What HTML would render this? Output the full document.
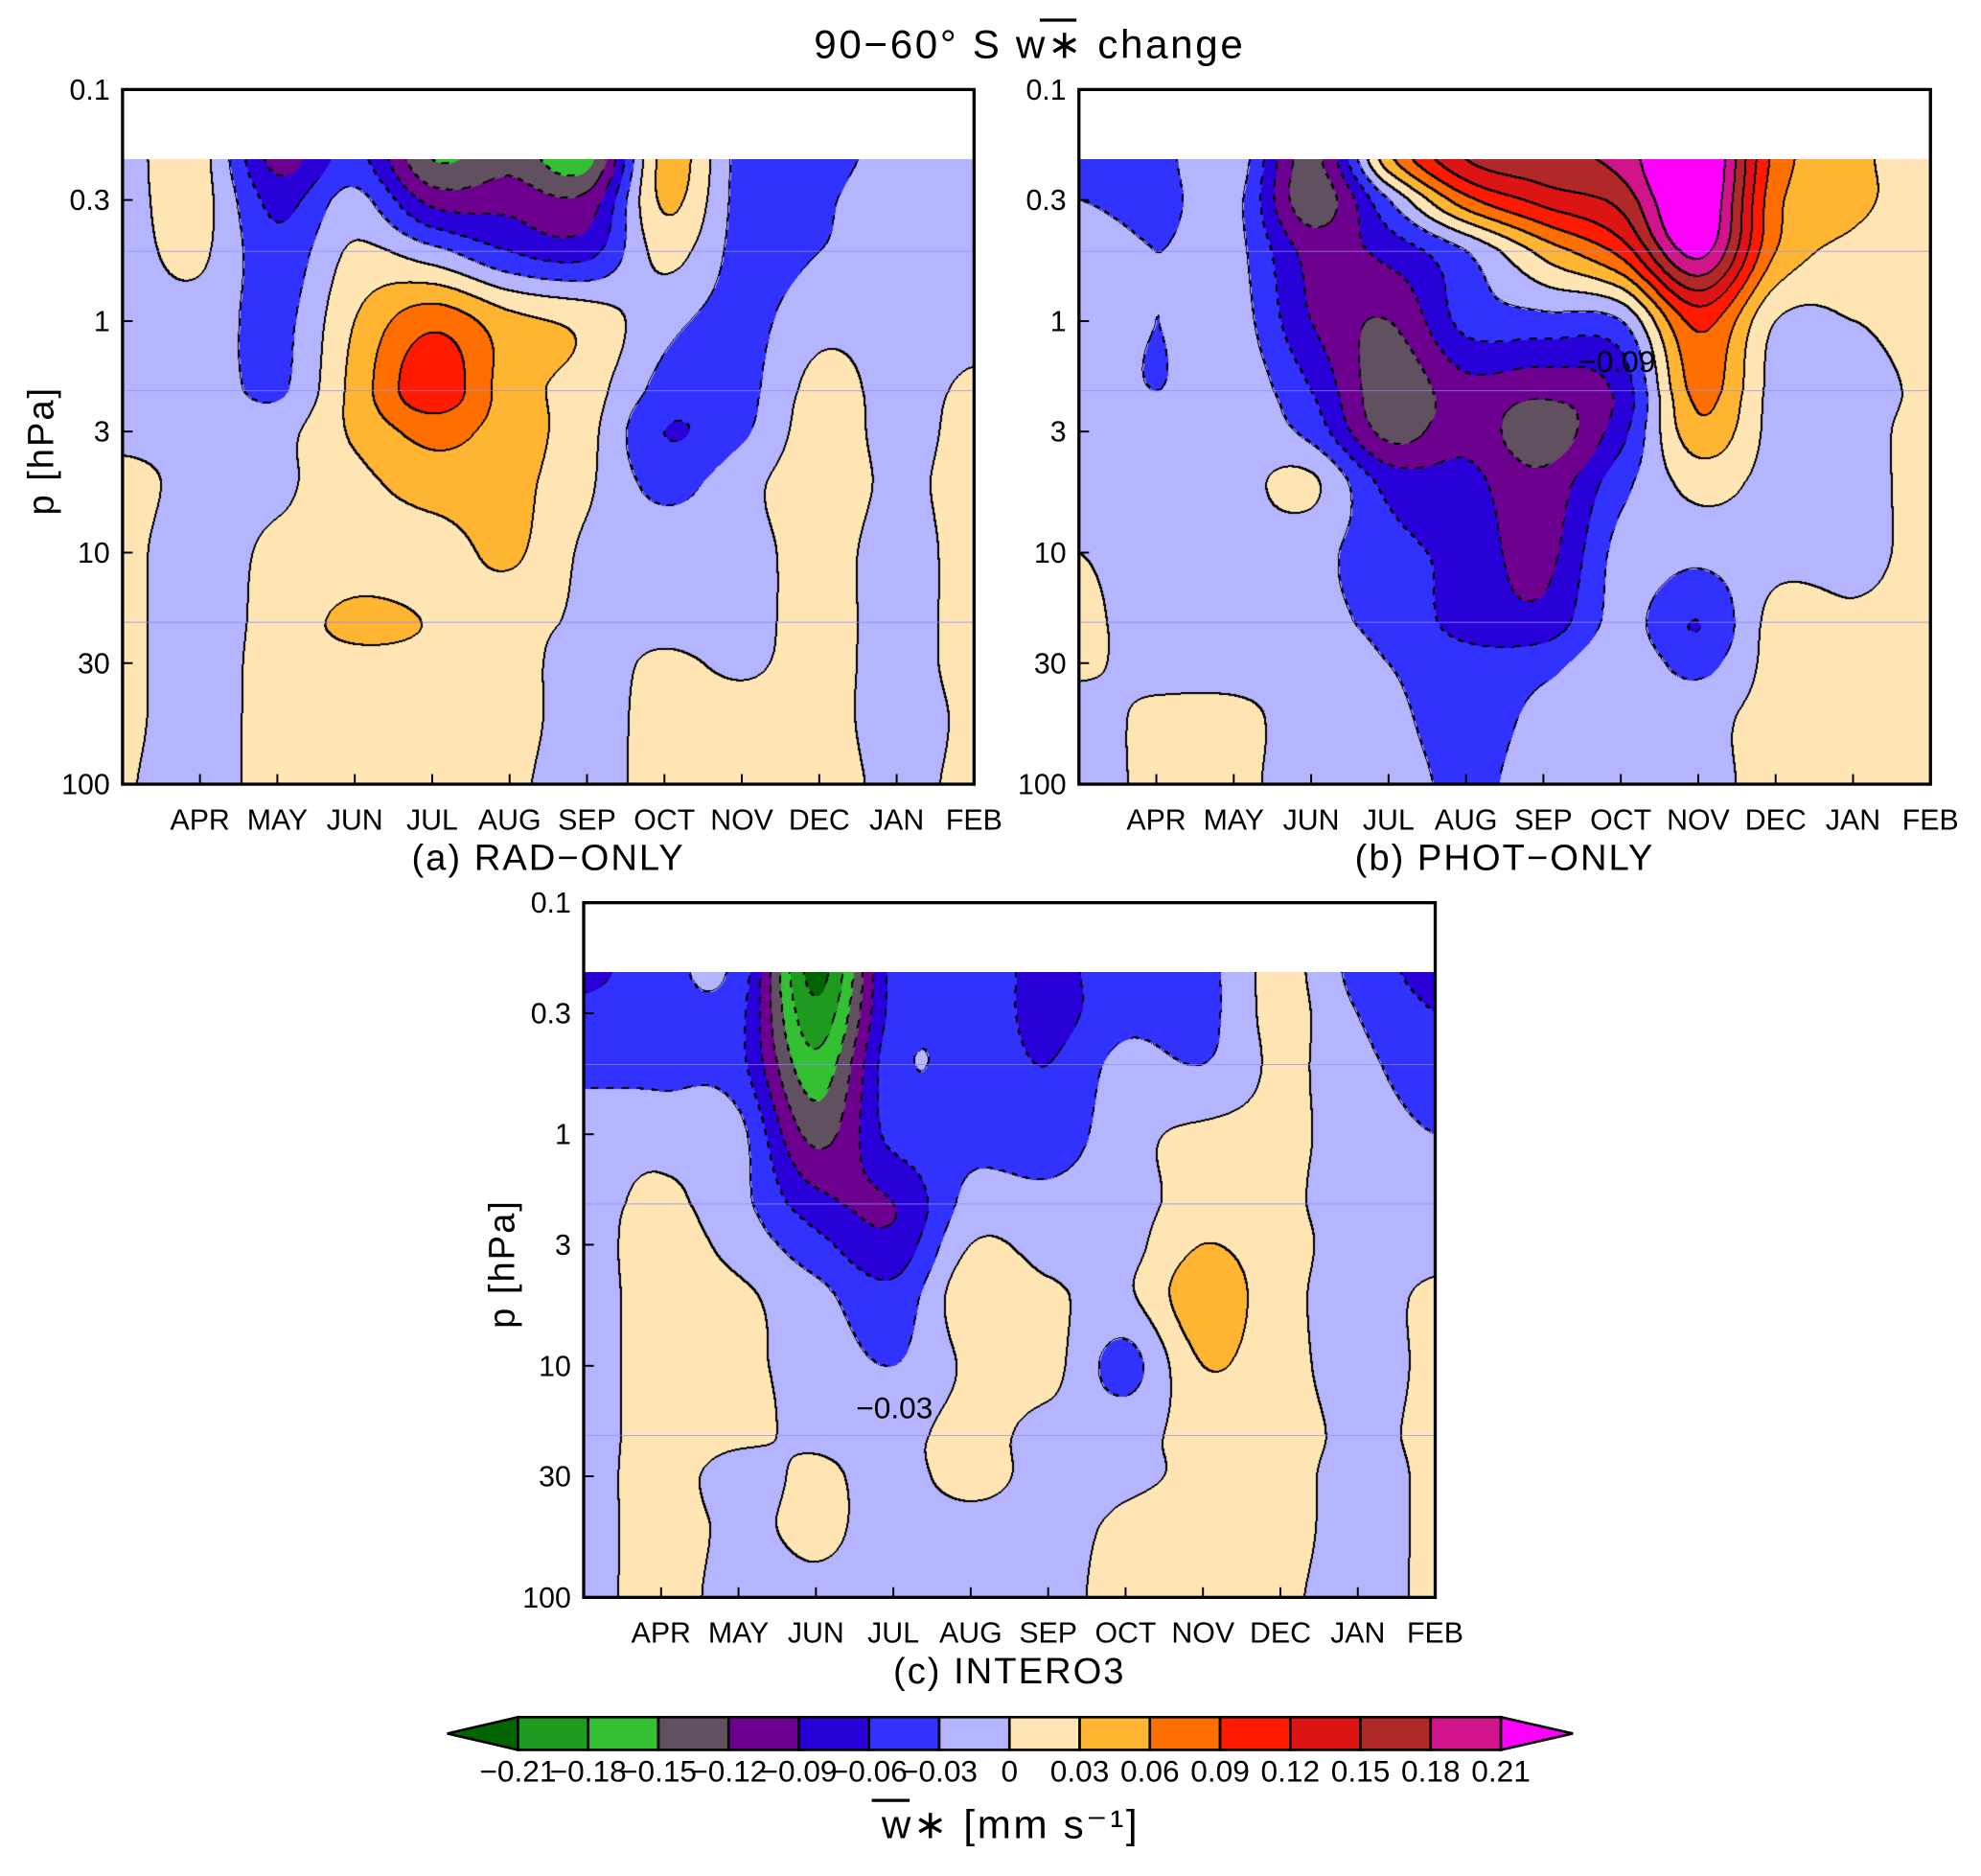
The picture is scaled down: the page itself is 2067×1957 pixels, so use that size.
<!DOCTYPE html>
<html><head><meta charset="utf-8"><title>90-60S w* change</title>
<style>
html,body{margin:0;padding:0;background:#fff;}
#root{position:relative;width:2067px;height:1957px;overflow:hidden;background:#fff;}
#root svg{position:absolute;left:0;top:0;}
canvas{position:absolute;}
</style></head>
<body>
<div id="root">
<svg id="svg" width="2067" height="1957" viewBox="0 0 1568 1488" preserveAspectRatio="none" font-family="Liberation Sans, DejaVu Sans, sans-serif"></svg>
</div>
<script>
// ---- data ----
const months = ["MAR","APR","MAY","JUN","JUL","AUG","SEP","OCT","NOV","DEC","JAN","FEB"];
const pLevels = [0.2,0.3,0.5,1,2,3,5,10,20,30,50,100];
const yTicks = [0.1,0.3,1,3,10,30,100];
const yTickLabels = ["0.1","0.3","1","3","10","30","100"];
const contourLevels = [-0.21,-0.18,-0.15,-0.12,-0.09,-0.06,-0.03,0,0.03,0.06,0.09,0.12,0.15,0.18,0.21];
const levelLabels = ["−0.21","−0.18","−0.15","−0.12","−0.09","−0.06","−0.03","0","0.03","0.06","0.09","0.12","0.15","0.18","0.21"];
const fillColors = ["#006400","#1e9b1e","#33c033","#605060","#6e0090","#2a00d8","#3232ff","#b4b4ff","#ffe4b4","#ffb432","#ff6e00","#ff1a00","#dc1414","#b02828","#d2148c","#ff00ff"];

const radOnly = [
 [-0.01,0.01,-0.10,-0.05,-0.15,-0.13,-0.16,0.04,-0.04,-0.04,-0.02,-0.02],
 [-0.01,0.01,-0.07,-0.02,-0.10,-0.10,-0.11,0.035,-0.04,-0.035,-0.01,-0.01],
 [-0.01,0.005,-0.05,0.005,-0.02,-0.06,-0.07,0.01,-0.04,-0.03,-0.01,-0.01],
 [-0.01,-0.01,-0.04,0.03,0.08,0.04,0.02,-0.02,-0.04,-0.01,-0.01,-0.01],
 [-0.01,-0.01,-0.035,0.04,0.11,0.045,0.015,-0.04,-0.04,0.01,-0.01,0.005],
 [-0.005,-0.005,-0.01,0.035,0.07,0.045,0.01,-0.06,-0.035,0.015,-0.01,0.01],
 [0.005,-0.005,-0.005,0.02,0.045,0.04,0.005,-0.04,-0.01,0.015,-0.005,0.01],
 [0.005,-0.01,0.005,0.01,0.015,0.035,-0.005,-0.01,-0.01,0.01,-0.01,0.01],
 [0.005,-0.01,0.01,0.038,0.028,0.012,-0.005,-0.01,-0.01,0.01,-0.01,0.01],
 [0.005,-0.01,0.01,0.02,0.02,0.01,-0.01,0.005,-0.005,0.01,-0.01,0.01],
 [0.005,-0.01,0.01,0.015,0.015,0.01,-0.01,0.01,0.01,0.01,-0.01,0.005],
 [0.002,-0.01,0.01,0.015,0.015,0.005,-0.01,0.01,0.01,0.01,-0.005,0.005]
];
const photOnly = [
 [-0.04,-0.04,-0.01,-0.13,0.05,0.15,0.17,0.19,0.26,0.08,0.04,0.01],
 [-0.03,-0.04,-0.02,-0.14,-0.03,0.08,0.13,0.16,0.25,0.07,0.04,0.01],
 [-0.01,-0.03,-0.02,-0.10,-0.08,-0.03,0.04,0.10,0.22,0.06,0.02,0.01],
 [-0.01,-0.03,-0.015,-0.09,-0.12,-0.05,-0.04,-0.03,0.10,0.0,0.0,0.01],
 [-0.01,-0.03,-0.01,-0.06,-0.14,-0.10,-0.11,-0.08,0.07,-0.01,-0.01,0.005],
 [-0.01,-0.01,-0.01,-0.04,-0.13,-0.10,-0.14,-0.07,0.05,-0.01,-0.01,0.01],
 [-0.01,-0.01,-0.01,0.005,-0.07,-0.08,-0.11,-0.04,0.01,-0.01,-0.01,0.01],
 [0.0,-0.01,-0.01,-0.02,-0.05,-0.07,-0.10,-0.02,-0.02,-0.01,-0.01,0.01],
 [0.005,-0.01,-0.01,-0.02,-0.04,-0.07,-0.08,-0.02,-0.06,0.01,0.005,0.01],
 [0.005,-0.01,-0.01,-0.01,-0.03,-0.05,-0.04,-0.01,-0.04,0.01,0.01,0.005],
 [-0.01,0.005,0.005,-0.01,-0.02,-0.05,-0.02,-0.01,-0.01,0.01,0.01,0.005],
 [-0.01,0.005,0.005,-0.01,-0.01,-0.04,-0.01,-0.01,-0.01,0.01,0.005,0.005]
];
const interO3 = [
 [-0.07,-0.04,-0.04,-0.22,-0.05,-0.04,-0.07,-0.04,-0.04,0.01,-0.04,-0.07],
 [-0.05,-0.04,-0.05,-0.20,-0.05,-0.04,-0.07,-0.04,-0.04,0.01,-0.03,-0.06],
 [-0.04,-0.04,-0.05,-0.17,-0.04,-0.04,-0.06,-0.02,-0.03,0.005,-0.02,-0.05],
 [-0.01,-0.01,-0.02,-0.13,-0.05,-0.04,-0.05,-0.01,0.005,0.005,-0.01,-0.03],
 [-0.01,0.005,-0.02,-0.08,-0.09,-0.02,-0.02,-0.01,0.01,0.005,-0.01,-0.01],
 [-0.01,0.01,-0.01,-0.05,-0.08,0.0,-0.01,-0.01,0.03,0.01,-0.01,-0.01],
 [-0.01,0.01,0.005,-0.02,-0.05,0.02,0.005,-0.005,0.05,0.01,-0.01,0.005],
 [-0.01,0.01,0.005,-0.01,-0.03,0.005,0.01,-0.04,0.03,0.01,-0.01,0.005],
 [-0.01,0.01,0.005,-0.005,-0.01,0.01,-0.01,-0.01,0.01,0.01,-0.005,0.005],
 [-0.01,0.01,-0.01,0.005,-0.01,0.01,-0.01,-0.005,0.005,0.01,-0.01,0.005],
 [-0.01,0.01,-0.005,0.005,-0.01,-0.01,-0.01,0.005,0.01,0.01,-0.01,0.005],
 [-0.01,0.01,-0.01,-0.005,-0.01,-0.01,-0.01,0.01,0.01,0.005,-0.01,0.005]
];

// ---- layout (display coords, viewBox 1568x1488) ----
const SX = 2067/1568, SY = 1957/1488;
const panels = [
 {key:"a", x0:97, y0:71, w:674, h:551, data:radOnly, title:"(a) RAD−ONLY", ytitle:true},
 {key:"b", x0:854, y0:71, w:674, h:551, data:photOnly, title:"(b) PHOT−ONLY", ytitle:false},
 {key:"c", x0:462, y0:716, w:674, h:551, data:interO3, title:"(c) INTERO3", ytitle:true}
];
const NS="http://www.w3.org/2000/svg";
const svg=document.getElementById('svg');
const root=document.getElementById('root');
function mk(tag,attrs,parent){const e=document.createElementNS(NS,tag);for(const k in attrs)e.setAttribute(k,attrs[k]);(parent||svg).appendChild(e);return e;}

function levelIndex(v){let i=0;while(i<contourLevels.length && v>=contourLevels[i])i++;return i;}
function hex(c){return [parseInt(c.substr(1,2),16),parseInt(c.substr(3,2),16),parseInt(c.substr(5,2),16)];}
const rgb = fillColors.map(hex);
function cr(p0,p1,p2,p3,t){
  return 0.5*((2*p1)+(-p0+p2)*t+(2*p0-5*p1+4*p2-p3)*t*t+(-p0+3*p1-3*p2+p3)*t*t*t);
}
function sampleRow(row,c,tx){
  const n=row.length;
  const g=k=>row[Math.max(0,Math.min(n-1,k))];
  return cr(g(c-1),g(c),g(c+1),g(c+2),tx);
}

panels.forEach(P=>{
  const yScale = p => P.y0 + (Math.log10(p)-Math.log10(0.1))/3*P.h;
  const xScale = m => P.x0 + m*(P.w/11);
  const yTop = yScale(pLevels[0]);
  const cx = Math.round(P.x0*SX), cy = Math.round(yTop*SY);
  const cw = Math.round(P.w*SX), ch = Math.round((P.y0+P.h-yTop)*SY);
  const cv=document.createElement('canvas');
  
  
  cv.width=cw; cv.height=ch;
  cv.style.left=cx+'px'; cv.style.top=cy+'px';
  root.insertBefore(cv, svg);
  const ctx=cv.getContext('2d');
  const img=ctx.createImageData(cw,ch);
  const lp = pLevels.map(p=>Math.log10(p));
  const idx=new Int8Array(cw*ch);
  const d=P.data, nr=d.length;
  const colVals = d.map(()=>new Float32Array(cw));
  for(let i=0;i<cw;i++){
    const m=(i/SX)/(P.w/11);
    let c=Math.min(10,Math.floor(m)); let tx=Math.max(0,Math.min(1,m-c));
    for(let r=0;r<nr;r++) colVals[r][i]=sampleRow(d[r],c,tx);
  }
  for(let j=0;j<ch;j++){
    const yd = yTop + j/SY;
    const L = Math.log10(0.1) + (yd-P.y0)/P.h*3;
    let r=0; while(r<lp.length-2 && L>lp[r+1]) r++;
    let ty=(L-lp[r])/(lp[r+1]-lp[r]); ty=Math.max(0,Math.min(1,ty));
    const R=k=>colVals[Math.max(0,Math.min(nr-1,k))];
    const a0=R(r-1),a1=R(r),a2=R(r+1),a3=R(r+2);
    for(let i=0;i<cw;i++){
      const v=cr(a0[i],a1[i],a2[i],a3[i],ty);
      idx[j*cw+i]=levelIndex(v);
    }
  }
  for(let j=0;j<ch;j++)for(let i=0;i<cw;i++){
    const k=j*cw+i; let col=rgb[idx[k]];
    const a=idx[k];
    let edge=false;
    if(i+1<cw && idx[k+1]!==a) edge=true;
    if(i+2<cw && idx[k+2]!==a) edge=true;
    if(j+1<ch && idx[k+cw]!==a) edge=true;
    if(j+2<ch && idx[k+2*cw]!==a) edge=true;
    if(edge){ const lv=Math.min(a, (i+1<cw?idx[k+1]:a), (j+1<ch?idx[k+cw]:a));
      const neg = lv<7;
      if(!neg || ((i+j)>>3)%2===0) col=[0,0,0]; }
    img.data[k*4]=col[0];img.data[k*4+1]=col[1];img.data[k*4+2]=col[2];img.data[k*4+3]=255;
  }
  ctx.putImageData(img,0,0);

  [0.5,2,20].forEach(p=>{
    const l=mk('line',{x1:P.x0,x2:P.x0+P.w,y1:yScale(p),y2:yScale(p),stroke:'#8c8cff','stroke-width':0.8,opacity:0.7});
    
    
  });
  const fr=mk('rect',{x:P.x0,y:P.y0,width:P.w,height:P.h,fill:'none',stroke:'#000','stroke-width':2.5});
  
  
  yTicks.forEach((p,i)=>{
    const y=yScale(p);
    mk('line',{x1:P.x0,x2:P.x0+8,y1:y,y2:y,stroke:'#000','stroke-width':1.5});
    const t=mk('text',{x:P.x0-10,y:y+8,'text-anchor':'end','font-size':23});
    t.textContent=yTickLabels[i];
    
    
  });
  months.forEach((m,i)=>{
    const x=xScale(i);
    mk('line',{x1:x,x2:x,y1:P.y0+P.h,y2:P.y0+P.h-8,stroke:'#000','stroke-width':1.5});
    if(i>0){
      const t=mk('text',{x:x,y:P.y0+P.h+36,'text-anchor':'middle','font-size':23});
      t.textContent=m;
      
      
    }
  });
  const tt=mk('text',{x:P.x0+P.w/2,y:P.y0+P.h+68,'text-anchor':'middle','font-size':29,'letter-spacing':1.5});
  tt.textContent=P.title;
  
  
  if(P.ytitle){
    const yx=P.x0-55, yy=P.y0+P.h*0.52;
    const yt=mk('text',{x:yx,y:yy,'text-anchor':'middle','font-size':29,'letter-spacing':1.5,transform:`rotate(-90 ${yx} ${yy})`});
    yt.textContent='p [hPa]';
    
    
  }
});

[[1280,295,'−0.09'],[708,1125,'−0.03']].forEach(a=>{
  const t=mk('text',{x:a[0],y:a[1],'text-anchor':'middle','font-size':24});
  t.textContent=a[2];
  
  
});

const mt=mk('text',{x:815,y:46,'text-anchor':'middle','font-size':32,'letter-spacing':2});
mt.textContent='90−60° S  w∗ change';


mk('line',{x1:823,x2:852,y1:16,y2:16,stroke:'#000','stroke-width':2.5});

const cbL=410, cbR=1188, cbY=1362, cbH=26, bw=(cbR-cbL)/14;
const cb=mk('g',{});


const la=mk('polygon',{points:`${cbL},${cbY} ${cbL},${cbY+cbH} 354,${cbY+cbH/2}`,fill:fillColors[0],stroke:'#000','stroke-width':2},cb);


for(let i=0;i<14;i++){
  const r=mk('rect',{x:cbL+i*bw,y:cbY,width:bw,height:cbH,fill:fillColors[i+1],stroke:'#000','stroke-width':2},cb);
  
  
}
const ra=mk('polygon',{points:`${cbR},${cbY} ${cbR},${cbY+cbH} 1245,${cbY+cbH/2}`,fill:fillColors[15],stroke:'#000','stroke-width':2},cb);


levelLabels.forEach((s,i)=>{
  const t=mk('text',{x:cbL+i*bw,y:cbY+cbH+25,'text-anchor':'middle','font-size':24},cb);
  t.textContent=s;
  
  
});
const ct=mk('text',{x:800,y:1458,'text-anchor':'middle','font-size':32,'letter-spacing':2});
ct.textContent='w∗ [mm s⁻¹]';


mk('line',{x1:690,x2:720,y1:1428,y2:1428,stroke:'#000','stroke-width':2.5});
</script>
</body></html>
